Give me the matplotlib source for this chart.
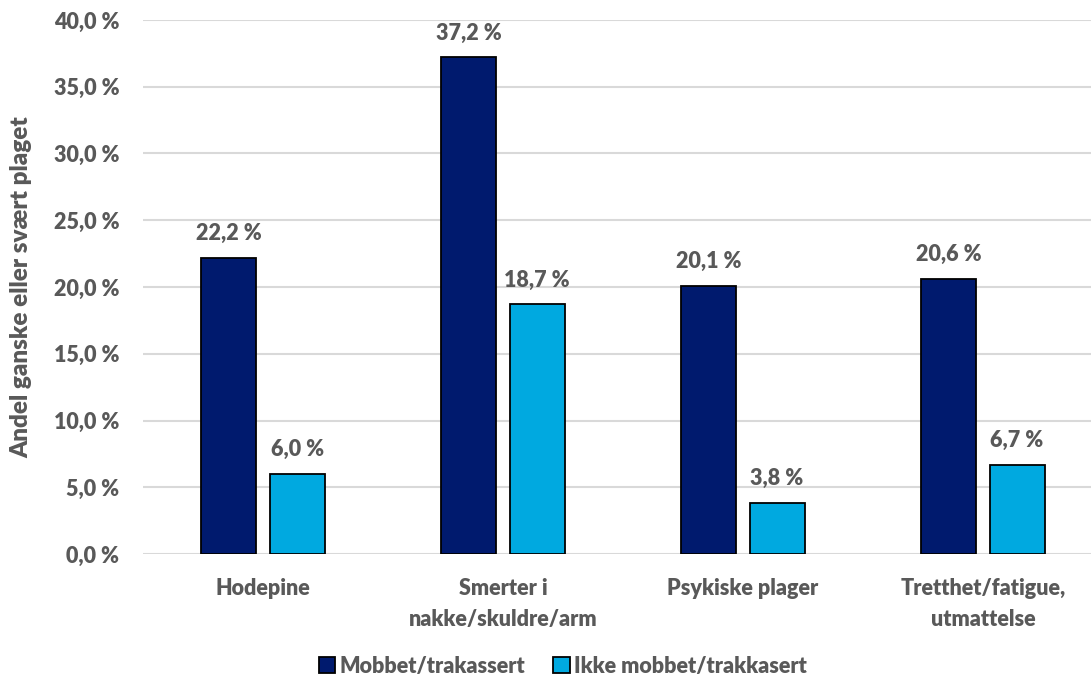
import matplotlib
matplotlib.use("Agg")
import matplotlib.pyplot as plt
import numpy as np

categories = ["Hodepine", "Smerter i\nnakke/skuldre/arm", "Psykiske plager",
              "Tretthet/fatigue,\nutmattelse"]
mobbet = [22.2, 37.2, 20.1, 20.6]
ikke_mobbet = [6.0, 18.7, 3.8, 6.7]
series_names = ["Mobbet/trakassert", "Ikke mobbet/trakkasert"]

plt.rcParams['font.family'] = ['Lato', 'DejaVu Sans']
wt = 'heavy'
txt = '#595959'
fs = 15.5

fig = plt.figure(figsize=(10.91, 6.76), dpi=100)
ax = fig.add_axes([143/1091, (676-554)/676, (1091-143)/1091, (554-20)/676])

x = np.arange(len(categories))
w = 0.229
off = 0.142
b1 = ax.bar(x - off, mobbet, w, color='#001a6e', edgecolor='black', linewidth=1.3,
            label=series_names[0], zorder=3)
b2 = ax.bar(x + off, ikke_mobbet, w, color='#00a9e0', edgecolor='black', linewidth=1.3,
            label=series_names[1], zorder=3)

for bars, vals in ((b1, mobbet), (b2, ikke_mobbet)):
    for r, v in zip(bars, vals):
        ax.annotate(f"{v:.1f} %".replace('.', ','),
                    (r.get_x() + r.get_width()/2, v), xytext=(0, 10),
                    textcoords='offset points', ha='center', va='bottom',
                    fontsize=fs, fontweight=wt, color=txt)

ax.set_xlim(-0.5, 3.45)
ax.set_ylim(0, 40)
ax.set_yticks(np.arange(0, 41, 5))
ax.set_yticklabels([f"{t:.1f} %".replace('.', ',') for t in np.arange(0, 41, 5)])
ax.set_xticks(x)
ax.set_xticklabels(categories, linespacing=1.6)
ax.tick_params(axis='both', length=0, labelsize=fs, labelcolor=txt)
ax.tick_params(axis='y', pad=17)
ax.tick_params(axis='x', pad=17)
for lab in ax.get_xticklabels() + ax.get_yticklabels():
    lab.set_fontweight(wt)
ax.grid(axis='y', color='#d9d9d9', linewidth=1.5, zorder=0)
ax.set_axisbelow(True)
for s in ax.spines.values():
    s.set_visible(False)

ax.set_ylabel("Andel ganske eller svært plaget", fontsize=17.5, fontweight=wt,
              color=txt)
ax.yaxis.set_label_coords(-111/948, 0.5)

leg = fig.legend(handles=[b1, b2], loc='center', bbox_to_anchor=(563/1091, 1 - 666/676),
                 ncol=2, frameon=False, fontsize=fs, handlelength=0.75, handleheight=0.75,
                 handletextpad=0.2, columnspacing=1.3)
for t in leg.get_texts():
    t.set_color(txt)
    t.set_fontweight(wt)

fig.savefig("out.png", dpi=100)
